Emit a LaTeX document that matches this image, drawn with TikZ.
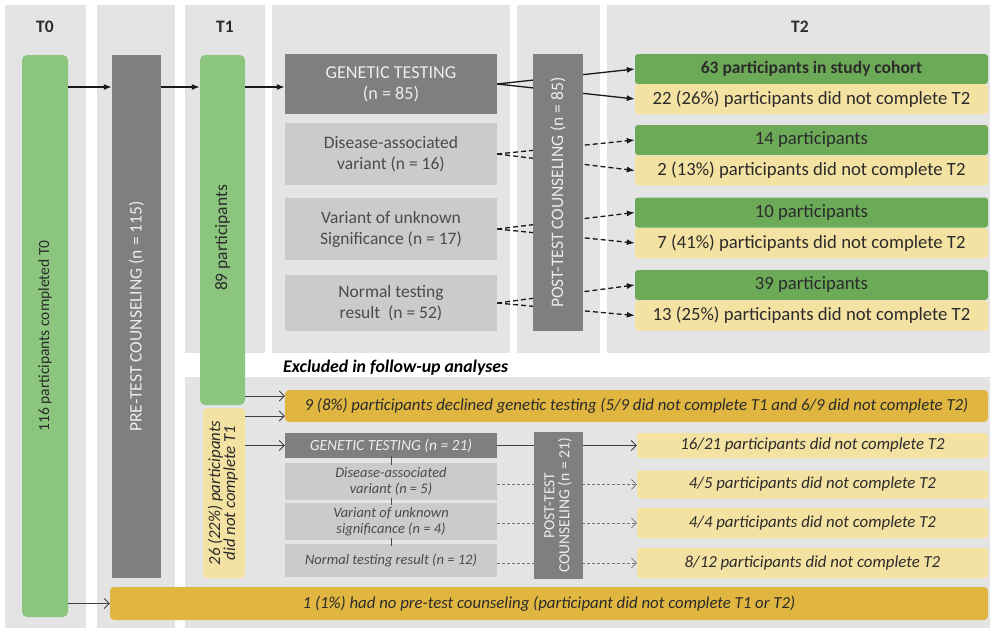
\documentclass[tikz,border=0pt]{standalone}
\usepackage{fontspec}
\setmainfont{Carlito}
\usetikzlibrary{arrows.meta}
\definecolor{panel}{HTML}{E4E4E4}
\definecolor{dgrey}{HTML}{7F7F7F}
\definecolor{lgrey}{HTML}{CBCBCB}
\definecolor{lgreen}{HTML}{8CC57E}
\definecolor{dgreen}{HTML}{6CAA58}
\definecolor{lyel}{HTML}{F4E2A2}
\definecolor{gold}{HTML}{E0B640}
\definecolor{txt}{HTML}{2B2B2B}
\newcommand{\fsA}{\fontsize{17.5}{21}\selectfont}
\newcommand{\fsT}{\fontsize{18.7}{21}\selectfont}
\newcommand{\fsG}{\fontsize{18.2}{21}\selectfont}
\newcommand{\fsV}{\fontsize{15.5}{18}\selectfont}
\newcommand{\fsB}{\fontsize{16.8}{18}\selectfont}
\newcommand{\fsE}{\fontsize{17.8}{19}\selectfont}
\newcommand{\fsC}{\fontsize{14.5}{16}\selectfont}
\newcommand{\fsD}{\fontsize{15.5}{17}\selectfont}
\begin{document}
\begin{tikzpicture}[x=1pt,y=-1pt,
  box/.style={inner sep=0pt, align=center, text=txt, font=\fsA},
  hdr/.style={box, font=\bfseries\fsA},
  greenbar/.style={box, fill=lgreen, rounded corners=5pt},
  darkbox/.style={box, fill=dgrey, text=white!93!black},
  lightbox/.style={box, fill=lgrey, text=txt!85!white, minimum width=212pt},
  lightbox2/.style={lightbox, font=\itshape\fsC},
  t2g/.style={box, fill=dgreen, rounded corners=3pt, minimum width=353pt, minimum height=30pt, font=\fsT},
  t2y/.style={box, fill=lyel, rounded corners=3pt, minimum width=353pt, minimum height=30pt, font=\fsT},
  ry/.style={box, fill=lyel, rounded corners=3pt, minimum width=351pt, font=\itshape\fsB},
  goldbox/.style={box, fill=gold, rounded corners=4pt, font=\itshape\fsB},
  arr/.style={-{Latex[length=8pt,width=6pt]}, line width=1.3pt, black!90},
  darr/.style={arr, dash pattern=on 5pt off 3pt},
  oarr/.style={-{Straight Barb[length=5pt,width=10pt]}, line width=0.9pt, black!75},
  dline/.style={-{Straight Barb[length=5pt,width=10pt]}, line width=0.6pt, black!55, dash pattern=on 3pt off 2pt},
  tick/.style={line width=1pt, black!70, shorten <=-2pt, shorten >=-2pt}
]
\useasboundingbox (0,0) rectangle (993,632);
\fill[white] (0,0) rectangle (993,632);
% column panels
\fill[panel] (5,5) rectangle (86,628);
\fill[panel] (97,5) rectangle (175,628);
\fill[panel] (185,5) rectangle (265,353);
\fill[panel] (272,5) rectangle (510,353);
\fill[panel] (517,5) rectangle (600,353);
\fill[panel] (607,5) rectangle (990,353);
\fill[panel] (185,377) rectangle (990,628);

% headers
\node[hdr] (t0h) at (45,27) {T0};
\node[hdr] (t1h) at (225,27) {T1};
\node[hdr] (t2h) at (800,27) {T2};

% main bars
\node[greenbar, minimum width=46pt, minimum height=562pt, font=\fsV] (t0) at (45,336) {\rotatebox{90}{116 participants completed T0}};
\node[darkbox, minimum width=49pt, minimum height=523pt] (pre) at (136.5,316.5) {\rotatebox{90}{PRE-TEST COUNSELING (n = 115)}};
\node[greenbar, minimum width=45pt, minimum height=350pt] (t1) at (222.5,230) {\rotatebox{90}{89 participants\hspace*{16pt}}};
\node[box, fill=lyel, rounded corners=4pt, minimum width=42pt, minimum height=170pt, font=\itshape\fsB] (nc1) at (224,493)
  {\rotatebox{90}{\begin{tabular}{@{}c@{}}26 (22\%) participants\\[-3pt]did not complete T1\end{tabular}}};

% genetic testing column
\node[darkbox, minimum width=212pt, minimum height=60pt, font=\fsG] (gt) at (391,84) {GENETIC TESTING\\(n = 85)};
\node[lightbox, minimum height=62pt] (dav) at (391,154) {Disease-associated\\variant (n = 16)};
\node[lightbox, minimum height=62pt] (vus) at (391,229) {Variant of unknown\\Significance (n = 17)};
\node[lightbox, minimum height=56pt] (ntr) at (391,303) {Normal testing\\result~ (n = 52)};

% T2 boxes
\node[t2g, font=\bfseries\fsA] (g1) at (811.5,69) {63 participants in study cohort};
\node[t2y] (y1) at (811.5,99) {22 (26\%) participants did not complete T2};
\node[t2g] (g2) at (811.5,140) {14 participants};
\node[t2y] (y2) at (811.5,170.5) {2 (13\%) participants did not complete T2};
\node[t2g] (g3) at (811.5,212.5) {10 participants};
\node[t2y] (y3) at (811.5,243) {7 (41\%) participants did not complete T2};
\node[t2g] (g4) at (811.5,285) {39 participants};
\node[t2y] (y4) at (811.5,315.5) {13 (25\%) participants did not complete T2};

% connectors top
\draw[arr] (t0.east |- 0,87) -- (pre.west |- 0,87);
\draw[arr] (pre.east |- 0,87) -- (t1.west |- 0,87);
\draw[arr] (t1.east |- 0,87) -- (gt.west |- 0,87);
\draw[arr] (gt.east) -- (g1.west);
\draw[arr] (gt.east) -- (y1.west);
\draw[darr] (dav.east) -- (g2.west);
\draw[darr] (dav.east) -- (y2.west);
\draw[darr] (vus.east) -- (g3.west);
\draw[darr] (vus.east) -- (y3.west);
\draw[darr] (ntr.east) -- (g4.west);
\draw[darr] (ntr.east) -- (y4.west);
\node[darkbox, minimum width=50pt, minimum height=277pt] (post) at (558,192.5) {\rotatebox{90}{POST-TEST COUNSELING (n = 85)}};

% excluded section
\node[anchor=west, inner sep=0pt, text=black, font=\bfseries\itshape\fsE] (excl) at (283,368) {Excluded in follow-up analyses};
\node[goldbox, minimum width=703pt, minimum height=32pt] (decl) at (636.5,406) {9 (8\%) participants declined genetic testing (5/9 did not complete T1 and 6/9 did not complete T2)};
\node[darkbox, minimum width=212pt, minimum height=25pt, font=\itshape\fsD] (gt2) at (391,445.5) {GENETIC TESTING (n = 21)};
\node[lightbox2, minimum height=37pt] (dav2) at (391,481.5) {Disease-associated\\variant (n = 5)};
\node[lightbox2, minimum height=37pt] (vus2) at (391,521.5) {Variant of unknown\\significance (n = 4)};
\node[lightbox2, minimum height=33pt] (ntr2) at (391,560.5) {Normal testing result (n = 12)};
\node[ry, minimum height=25pt] (r1) at (812.5,445.5) {16/21 participants did not complete T2};
\node[ry, minimum height=28pt] (r2) at (812.5,484.5) {4/5 participants did not complete T2};
\node[ry, minimum height=30pt] (r3) at (812.5,523) {4/4 participants did not complete T2};
\node[ry, minimum height=30pt] (r4) at (812.5,563) {8/12 participants did not complete T2};
\node[goldbox, minimum width=878pt, minimum height=33pt] (nopre) at (549,603.5) {1 (1\%) had no pre-test counseling (participant did not complete T1 or T2)};

\draw[oarr] (gt2.east) -- (r1.west);
\draw[dline] (dav2.east |- r2.west) -- (r2.west);
\draw[dline] (vus2.east |- r3.west) -- (r3.west);
\draw[dline] (ntr2.east |- r4.west) -- (r4.west);
\node[darkbox, minimum width=49pt, minimum height=147pt, font=\fsD] (post2) at (558.5,505.5)
  {\rotatebox{90}{\begin{tabular}{@{}c@{}}POST-TEST\\[-2pt]COUNSELING (n = 21)\end{tabular}}};
\draw[tick] (gt2.south) -- (dav2.north);
\draw[tick] (dav2.south) -- (vus2.north);
\draw[tick] (vus2.south) -- (ntr2.north);

\draw[oarr] (t1.east |- 0,396) -- (decl.west |- 0,396);
\draw[oarr] (nc1.east |- 0,416) -- (decl.west |- 0,416);
\draw[oarr] (nc1.east |- gt2.west) -- (gt2.west);
\draw[oarr] (t0.east |- nopre.west) -- (nopre.west);
\end{tikzpicture}
\end{document}
